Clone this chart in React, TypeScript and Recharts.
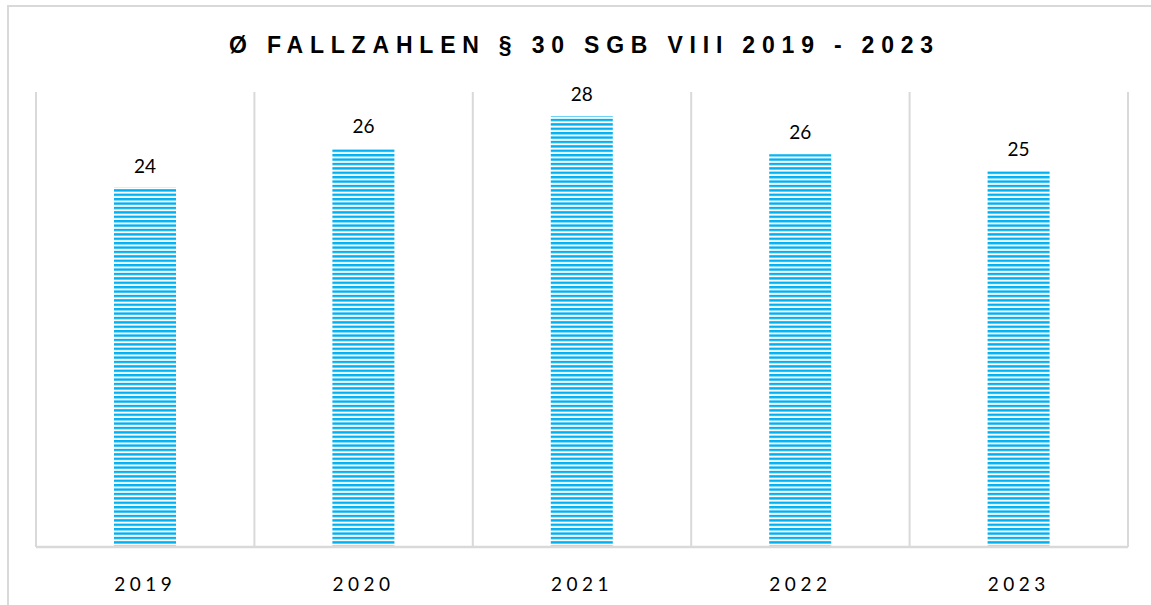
import React from 'react';
import { BarChart, Bar, XAxis, YAxis, LabelList, ReferenceLine } from 'recharts';

// Average case numbers § 30 SGB VIII per year
const years = ['2019', '2020', '2021', '2022', '2023'];
const caseCounts = [23.7, 26.3, 28.4, 25.9, 24.8];
const valueDomain = [0, 30];
const chartTitle = 'Ø FALLZAHLEN § 30 SGB VIII 2019 - 2023';

const data = years.map((year, i) => ({ year, cases: caseCounts[i] }));

const GRID = '#d9d9d9';
const BLUE = '#00B0F0';

const YearTick = (props: any) => {
  const { x, y, payload } = props;
  return (
    <text
      x={x}
      y={y + 36}
      textAnchor="middle"
      fontFamily="Lato, 'Open Sans', sans-serif"
      fontSize={19}
      letterSpacing={4.5}
      fill="#000"
    >
      {payload.value}
    </text>
  );
};

export default function App() {
  return (
    <div style={{ position: 'relative', width: 1151, height: 605, overflow: 'hidden', background: '#fff' }}>
      <style>{'body{margin:0}'}</style>
      <div
        style={{
          position: 'absolute',
          left: 7,
          top: 5,
          width: 1300,
          height: 800,
          border: `2px solid ${GRID}`,
          boxSizing: 'border-box',
        }}
      />
      <svg width={0} height={0} style={{ position: 'absolute' }}>
        <defs>
          <pattern id="stripes" patternUnits="userSpaceOnUse" width={10} height={4.4}>
            <rect x={0} y={0} width={10} height={2.4} fill={BLUE} />
          </pattern>
        </defs>
      </svg>
      <div style={{ position: 'absolute', left: 0, top: 0 }}>
        <BarChart width={1151} height={605} data={data} margin={{ top: 92, right: 23, left: 36, bottom: 0 }}>
          <YAxis hide domain={valueDomain} />
          <XAxis
            dataKey="year"
            height={58}
            axisLine={{ stroke: GRID, strokeWidth: 2.5 }}
            tickLine={false}
            tick={<YearTick />}
            interval={0}
          />
          {years.map((yr) => (
            <ReferenceLine key={yr} x={yr} position="start" stroke={GRID} strokeWidth={2} />
          ))}
          <ReferenceLine x={years[years.length - 1]} position="end" stroke={GRID} strokeWidth={2} />
          <Bar dataKey="cases" fill="url(#stripes)" barSize={62} isAnimationActive={false}>
            <LabelList
              dataKey="cases"
              position="top"
              offset={15}
              formatter={(v: any) => Math.round(Number(v))}
              fill="#000"
              fontSize={19}
              fontFamily="Lato, 'Open Sans', sans-serif"
            />
          </Bar>
        </BarChart>
      </div>
      <svg width={1151} height={80} style={{ position: 'absolute', left: 0, top: 0, pointerEvents: 'none' }}>
        <text
          x={584.5}
          y={53}
          textAnchor="middle"
          fontFamily="'Liberation Sans', Arial, sans-serif"
          fontWeight="bold"
          fontSize={23}
          letterSpacing={6.8}
          fill="#000"
        >
          {chartTitle}
        </text>
      </svg>
    </div>
  );
}
